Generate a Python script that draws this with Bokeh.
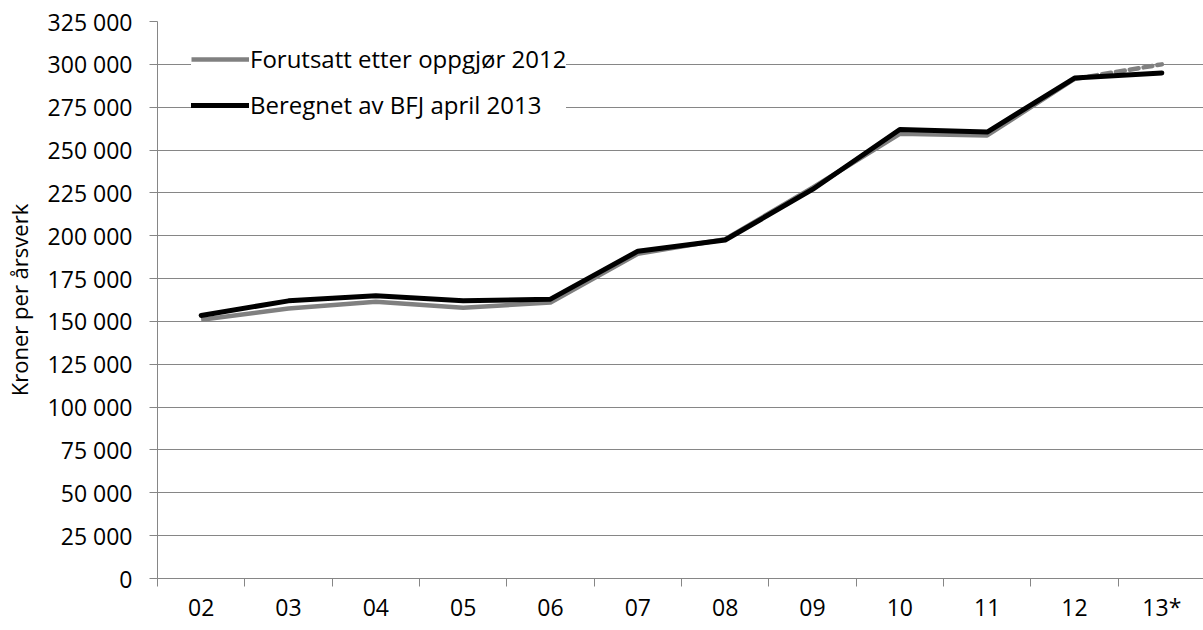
from bokeh.plotting import figure
from bokeh.models import (FixedTicker, Legend, LegendItem, ColumnDataSource)
from bokeh.embed import file_html
from bokeh.resources import INLINE

categories = ["02", "03", "04", "05", "06", "07", "08", "09", "10", "11", "12", "13*"]
forutsatt = [151000, 157500, 161500, 158000, 161000, 189500, 198000, 228000, 259500, 258500, 291500, 300000]
beregnet = [153500, 162000, 165000, 162000, 163000, 191000, 197500, 227000, 262000, 260500, 292000, 295000]
y_ticks = [0, 25000, 50000, 75000, 100000, 125000, 150000, 175000, 200000, 225000,
           250000, 275000, 300000, 325000]
y_tick_labels = ["0", "25 000", "50 000", "75 000", "100 000", "125 000", "150 000", "175 000",
                 "200 000", "225 000", "250 000", "275 000", "300 000", "325 000"]
series_names = ["Forutsatt etter oppgjør 2012", "Beregnet av BFJ april 2013"]
y_title = "Kroner per årsverk"

FONT = "Open Sans"
GRID = "#868686"

n = len(categories)
xs = [i + 0.5 for i in range(n)]

p = figure(frame_width=1048, frame_height=557, x_range=(0, n), y_range=(0, 325000),
           output_backend="svg", toolbar_location=None,
           min_border_left=147, min_border_right=0, min_border_top=21, min_border_bottom=36)
p.outline_line_color = None
p.background_fill_color = "white"
p.border_fill_color = "white"

# grid
p.xgrid.grid_line_color = None
p.ygrid.grid_line_color = GRID
p.ygrid.grid_line_width = 1
p.ygrid.ticker = FixedTicker(ticks=y_ticks)

# x axis
xa = p.xaxis[0]
xa.ticker = FixedTicker(ticks=xs, minor_ticks=list(range(n + 1)))
xa.major_label_overrides = {x: c for x, c in zip(xs, categories)}
xa.major_tick_out = 0
xa.major_tick_in = 0
xa.minor_tick_out = 8
xa.minor_tick_in = 0
xa.minor_tick_line_color = GRID
xa.axis_line_color = GRID
xa.major_label_text_font = FONT
xa.major_label_text_font_size = "23px"
xa.major_label_text_color = "black"
xa.major_label_standoff = 4

# y axis
ya = p.yaxis[0]
ya.ticker = FixedTicker(ticks=y_ticks)
ya.major_label_overrides = {v: t for v, t in zip(y_ticks, y_tick_labels)}
ya.major_tick_out = 8
ya.major_tick_in = 0
ya.minor_tick_line_color = None
ya.major_tick_line_color = GRID
ya.axis_line_color = GRID
ya.major_label_text_font = FONT
ya.major_label_text_font_size = "23px"
ya.major_label_text_color = "black"
ya.major_label_standoff = 17
ya.axis_label = y_title
ya.axis_label_text_font = FONT
ya.axis_label_text_font_size = "22px"
ya.axis_label_text_font_style = "normal"
ya.axis_label_text_color = "black"
ya.axis_label_standoff = 11

# lines
grey_src = ColumnDataSource(dict(x=xs[:-1], y=forutsatt[:-1]))
grey_dash_src = ColumnDataSource(dict(x=xs[-2:], y=forutsatt[-2:]))
black_src = ColumnDataSource(dict(x=xs, y=beregnet))

g1 = p.line("x", "y", source=grey_src, line_color="#808080", line_width=4.5, line_join="round")
p.line("x", "y", source=grey_dash_src, line_color="#808080", line_width=4.5,
       line_dash="9 5", line_cap="round")
b1 = p.line("x", "y", source=black_src, line_color="black", line_width=5, line_join="round",
            line_cap="round")

legend = Legend(items=[LegendItem(label=series_names[0], renderers=[g1]),
                       LegendItem(label=series_names[1], renderers=[b1])],
                location=(34, 457))
legend.background_fill_color = "white"
legend.background_fill_alpha = 1
legend.border_line_color = None
legend.label_text_font = FONT
legend.label_text_font_size = "24px"
legend.label_text_color = "black"
legend.glyph_width = 58
legend.glyph_height = 30
legend.label_height = 30
legend.spacing = 13
legend.padding = 12
legend.margin = 0
legend.label_standoff = 1
p.add_layout(legend, "center")

open("out.html", "w").write(file_html(p, INLINE))
